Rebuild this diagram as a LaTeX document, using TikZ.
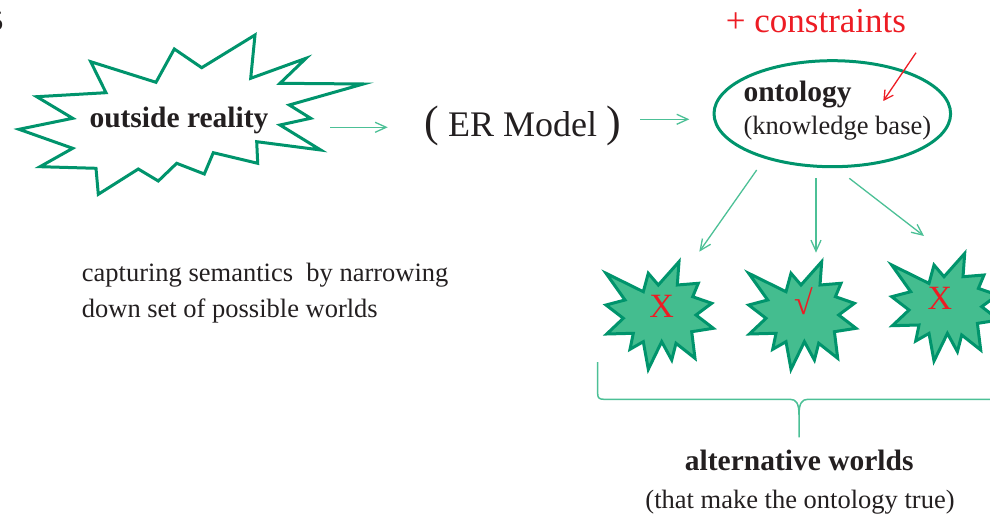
\documentclass[tikz,border=0pt]{standalone}
\usepackage{fontspec}
\setmainfont{Liberation Serif}
\usetikzlibrary{arrows.meta,shapes.geometric}

\definecolor{burstgreen}{RGB}{0,148,108}
\definecolor{worldfill}{RGB}{68,189,143}
\definecolor{linkgreen}{RGB}{76,192,150}
\definecolor{alertred}{RGB}{237,28,36}
\definecolor{inkblack}{RGB}{35,31,32}
\newcommand\fsz[1]{\fontsize{#1}{#1}\selectfont}

\begin{document}
\begin{tikzpicture}[x=1pt,y=-1pt,
  txt/.style={inner sep=0pt, text=inkblack, font=\fsz{26.5}},
  boldtxt/.style={inner sep=0pt, text=inkblack, font=\fsz{29.5}\bfseries},
  verdict/.style={inner sep=0pt, text=alertred, font=\fsz{34}},
  link/.style={draw=linkgreen, line width=1.3pt,
    -{Straight Barb[length=11pt,width=10pt,line width=1.3pt]}},
  redlink/.style={draw=alertred, line width=1.3pt,
    -{Straight Barb[length=9pt,width=10pt,line width=1.3pt]}},
  reality/.style={draw=burstgreen, line width=3pt, fill=white, line join=miter},
  world/.style={draw=burstgreen, line width=3pt, fill=worldfill, line join=miter},
  bracepath/.style={draw=linkgreen, line width=1.5pt},
  worldstar/.pic={
    \path[world] (-54,-42.7) -- (-16.7,-24.3) -- (-11.7,-42.7) -- (-1.7,-31)
      -- (19,-54.3) -- (17.3,-31) -- (38.3,-32.7) -- (32.7,-19.3)
      -- (51.7,-12.7) -- (36,-1) -- (53.3,12.3) -- (31.7,15.7)
      -- (35,42.3) -- (16,27.3) -- (11.7,44) -- (1.7,25.7)
      -- (-11.7,53.3) -- (-16.7,25.7) -- (-30,33.3) -- (-26.7,17.3)
      -- (-53.3,18) -- (-36.7,2.3) -- (-54,-11) -- (-35,-16) -- cycle;
  }
]
\useasboundingbox (0,0) rectangle (990,518);
\clip (0,0) rectangle (990,518);

% clipped glyph at the left edge
\node[txt, font=\fsz{28}, anchor=base east] (corner) at (3.5,31) {5};

% outside reality burst
\path[reality] (19,129.3) -- (72.7,148.3) -- (40,166.7) -- (96,168.3)
  -- (98.3,194.3) -- (138.3,169) -- (158.3,181) -- (176.7,163.3)
  -- (204.3,174) -- (213.3,152.7) -- (257.7,163.3) -- (256.7,141.7)
  -- (320.7,150) -- (280,125) -- (310.7,118.3) -- (289.3,105)
  -- (363.3,84) -- (280,83.3) -- (306,58.3) -- (250.7,78.3)
  -- (255,35) -- (201.7,67.7) -- (174.3,49) -- (156,82.3)
  -- (90.7,61.7) -- (106,92.7) -- (36.7,96.7) -- (72.7,118.3) -- cycle;
\node[boldtxt, anchor=base west] (reality) at (89.3,127.7) {outside reality};

% ER model
\node[txt, font=\fsz{36}, anchor=base west] (er) at (423.8,136.7)
  {{\fsz{44}(}\hspace{9.5pt}ER Model\hspace{9pt}{\fsz{44})}};

% ontology
\node[draw=burstgreen, line width=3pt, ellipse, inner sep=0pt,
  minimum width=236.6pt, minimum height=106pt] (onto) at (832.3,113.7) {};
\node[boldtxt, anchor=base west] (ontotitle) at (743.3,101.7) {ontology};
\node[txt, anchor=base west] (ontosub) at (743.3,135) {(knowledge base)};

% constraints
\node[inner sep=0pt, text=alertred, font=\fsz{35}, anchor=base west]
  (constraints) at (725.7,32.7) {+ constraints};

% caption
\node[txt, anchor=base west] (cap1) at (81.7,281.7) {capturing semantics\ \ by narrowing};
\node[txt, anchor=base west] (cap2) at (81.7,317.7) {down set of possible worlds};

% alternative worlds
\pic (star1) at (660,316) {worldstar};
\pic (star2) at (802.7,316) {worldstar};
\pic (star3) at (945.7,307.7) {worldstar};
\node[verdict, anchor=base] (w1) at (661.7,317.7) {X};
\node[verdict] (w2) at (803.5,301.5) {√};
\node[verdict, anchor=base] (w3) at (940,310) {X};

% arrow end points
\coordinate (realityout) at (330,127.3);
\coordinate (erin) at (387.7,127.3);
\coordinate (erout) at (640,119.3);
\coordinate (ontoin) at (689.3,119.3);
\coordinate (ontoout1) at (756.7,170);
\coordinate (w1in) at (699.3,251.7);
\coordinate (ontoout2) at (816,178.3);
\coordinate (w2in) at (816,252.7);
\coordinate (ontoout3) at (849.3,178.3);
\coordinate (w3in) at (924,236);
\coordinate (constraintsout) at (916,52.7);
\coordinate (ontoconstr) at (883.3,101);

\draw[link] (realityout) -- (erin);
\draw[link] (erout) -- (ontoin);
\draw[link] (ontoout1) -- (w1in);
\draw[link] (ontoout2) -- (w2in);
\draw[link] (ontoout3) -- (w3in);
\draw[redlink] (constraintsout) -- (ontoconstr);

% brace under the worlds
\path[bracepath] (597.7,362) -- (597.7,394)
  .. controls (597.7,398) and (599.5,399.3) .. (604,399.3) -- (790,399.3)
  .. controls (796,399.3) and (799,403) .. (799,415) -- (799,437.3)
  (799,415) .. controls (799,403) and (802,399.3) .. (808,399.3) -- (994,399.3)
  .. controls (998.5,399.3) and (1000.3,398) .. (1000.3,394) -- (1000.3,362);

\node[boldtxt, anchor=base] (alt) at (799.2,470.7) {alternative worlds};
\node[txt, anchor=base] (altsub) at (800,508.3) {(that make the ontology true)};
\end{tikzpicture}
\end{document}
